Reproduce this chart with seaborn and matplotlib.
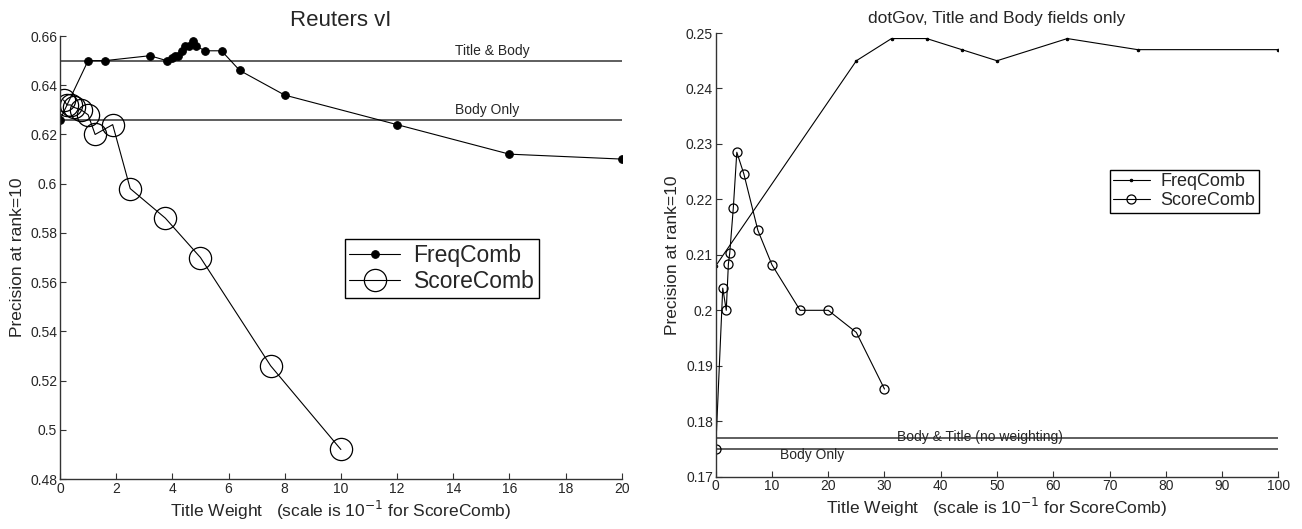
import numpy as np
import pandas as pd
import matplotlib
matplotlib.use("Agg")
import matplotlib.pyplot as plt
from matplotlib.ticker import FuncFormatter, MultipleLocator
import seaborn as sns

# ---------------- data: Reuters vI ----------------
reu_freq_x = [0, 1.0, 1.6, 3.2, 3.8, 4.0, 4.1, 4.2, 4.35, 4.45, 4.6, 4.75, 4.85, 5.15, 5.75, 6.4, 8, 12, 16, 20]
reu_freq_y = [0.626, 0.650, 0.650, 0.652, 0.650, 0.651, 0.652, 0.652, 0.654, 0.656, 0.656, 0.658, 0.656,
              0.654, 0.654, 0.646, 0.636, 0.624, 0.612, 0.610]
reu_score_x = [0.125, 0.25, 0.375, 0.5, 0.75, 1.0, 1.25, 1.875, 2.5, 3.75, 5.0, 7.5, 10.0]
reu_score_y = [0.634, 0.632, 0.632, 0.631, 0.630, 0.628, 0.620, 0.624, 0.598, 0.586, 0.570, 0.526, 0.492]
reu_base_y = [0.650, 0.626]
reu_base_labels = ["Title & Body", "Body Only"]

# ---------------- data: dotGov ----------------
gov_freq_x = [0, 25, 31.25, 37.5, 43.75, 50, 62.5, 75, 100]
gov_freq_y = [0.208, 0.245, 0.249, 0.249, 0.247, 0.245, 0.249, 0.247, 0.247]
gov_score_x = [0, 1.25, 1.875, 2.25, 2.5, 3.125, 3.75, 5, 7.5, 10, 15, 20, 25, 30]
gov_score_y = [0.175, 0.204, 0.200, 0.2083, 0.2104, 0.2184, 0.2285, 0.2246, 0.2144, 0.2082,
               0.200, 0.200, 0.196, 0.1858]
gov_base_y = [0.177, 0.175]
gov_base_labels = ["Body & Title (no weighting)", "Body Only"]

sns.set_theme(style="ticks")
plt.rcParams["font.family"] = ["Liberation Sans", "DejaVu Sans"]
plt.rcParams["xtick.direction"] = "in"
plt.rcParams["ytick.direction"] = "in"

fig = plt.figure(figsize=(13.02, 5.29), dpi=100)
ax1 = fig.add_axes([0.0461, 0.0945, 0.4314, 0.8374])
ax2 = fig.add_axes([0.5497, 0.0989, 0.4321, 0.8387])

fmt = FuncFormatter(lambda v, p: ("%g" % round(v, 4)))

def style(ax):
    for s in ["top", "right"]:
        ax.spines[s].set_visible(False)
    for s in ["left", "bottom"]:
        ax.spines[s].set_color("#333333")
        ax.spines[s].set_linewidth(1.0)
    ax.tick_params(length=4, width=0.8, color="#333333", labelsize=10, pad=2)
    ax.yaxis.set_major_formatter(fmt)
    ax.set_xlabel(r"Title Weight   (scale is 10$^{-1}$ for ScoreComb)", fontsize=12.5, labelpad=2)
    ax.set_ylabel("Precision at rank=10", fontsize=12.5, labelpad=4)

# ---------------- left panel ----------------
for yv in reu_base_y:
    ax1.axhline(yv, color="#5e5e5e", lw=1.4, zorder=1)
sns.lineplot(x=reu_freq_x, y=reu_freq_y, ax=ax1, sort=False, estimator=None, color="black",
             lw=0.8, marker="o", markersize=5.5, markerfacecolor="black", markeredgecolor="black",
             label="FreqComb")
sns.lineplot(x=reu_score_x, y=reu_score_y, ax=ax1, sort=False, estimator=None, color="black",
             lw=0.8, marker="o", markersize=16, markerfacecolor="none", markeredgecolor="black",
             markeredgewidth=0.9, label="ScoreComb")
ax1.set_xlim(0, 20)
ax1.set_ylim(0.48, 0.66)
ax1.xaxis.set_major_locator(MultipleLocator(2))
ax1.yaxis.set_major_locator(MultipleLocator(0.02))
ax1.text(15.4, reu_base_y[0] + 0.0012, reu_base_labels[0], ha="center", va="bottom", fontsize=10)
ax1.text(15.2, reu_base_y[1] + 0.0012, reu_base_labels[1], ha="center", va="bottom", fontsize=10)
ax1.set_title("Reuters vI", fontsize=16, pad=7)
style(ax1)
leg1 = ax1.legend(loc="center", bbox_to_anchor=(0.68, 0.475), fontsize=16.5, frameon=True,
                  fancybox=False, edgecolor="black", framealpha=1, handlelength=2.2,
                  borderpad=0.2, labelspacing=0.15, handletextpad=0.6)
leg1.get_frame().set_linewidth(1.0)

# ---------------- right panel ----------------
for yv in gov_base_y:
    ax2.axhline(yv, color="#5e5e5e", lw=1.4, zorder=1)
sns.lineplot(x=gov_freq_x, y=gov_freq_y, ax=ax2, sort=False, estimator=None, color="black",
             lw=0.8, marker="o", markersize=1.8, markerfacecolor="black", markeredgecolor="black",
             label="FreqComb")
sns.lineplot(x=gov_score_x, y=gov_score_y, ax=ax2, sort=False, estimator=None, color="black",
             lw=0.8, marker="o", markersize=6.5, markerfacecolor="none", markeredgecolor="black",
             markeredgewidth=0.9, label="ScoreComb")
ax2.set_xlim(0, 100)
ax2.set_ylim(0.17, 0.25)
ax2.xaxis.set_major_locator(MultipleLocator(10))
ax2.yaxis.set_major_locator(MultipleLocator(0.01))
ax2.text(47, gov_base_y[0] + 0.0001, gov_base_labels[0], ha="center", va="center", fontsize=10)
ax2.text(17.1, gov_base_y[1] - 0.0011, gov_base_labels[1], ha="center", va="center", fontsize=10)
ax2.set_title("dotGov, Title and Body fields only", fontsize=12.5, pad=7)
style(ax2)
leg2 = ax2.legend(loc="center", bbox_to_anchor=(0.833, 0.643), fontsize=13, frameon=True,
                  fancybox=False, edgecolor="black", framealpha=1, handlelength=2.0,
                  borderpad=0.2, labelspacing=0.1, handletextpad=0.6)
leg2.get_frame().set_linewidth(1.0)

fig.savefig("out.png", dpi=100)
